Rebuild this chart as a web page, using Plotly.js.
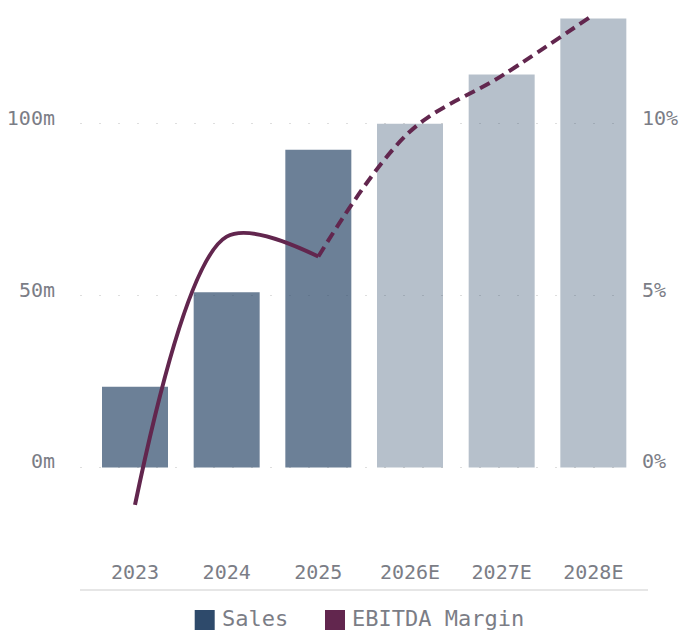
<!DOCTYPE html>
<html>
<head>
<meta charset="utf-8">
<script src="https://cdn.plot.ly/plotly-3.0.1.min.js"></script>
<style>html,body{margin:0;padding:0;background:#fff;}#chart{width:679px;height:631px;}</style>
</head>
<body>
<div id="chart"></div>
<script>
var categories = ["2023", "2024", "2025", "2026E", "2027E", "2028E"];
var sales = [23.5, 51, 92.5, 100.1, 114.4, 130.7];
var salesOpacity = [0.7, 0.7, 0.7, 0.35, 0.35, 0.35];
var actualYears = ["2023", "2024", "2025"];
var actualMargin = [-1.09, 6.72, 6.14];
var estimateYears = ["2025", "2026E", "2027E", "2028E"];
var estimateMargin = [6.14, 9.78, 11.4, 13.18];
var leftTicks = [0, 50, 100];
var rightTicks = [0, 5, 10];

var salesColor = "#2e4a6b";
var marginColor = "#62264e";
var textColor = "#7b7d86";
var fontFamily = "'DejaVu Sans Mono', 'Liberation Mono', monospace";

var traces = [
  {
    type: "bar", x: categories, y: sales, name: "Sales", showlegend: false,
    marker: {color: salesColor, opacity: salesOpacity, line: {width: 0}},
    hoverinfo: "x+y"
  },
  {
    type: "scatter", mode: "lines", x: actualYears, y: actualMargin, yaxis: "y2",
    name: "EBITDA Margin", showlegend: false,
    line: {color: marginColor, width: 4, shape: "spline", smoothing: 0.9}
  },
  {
    type: "scatter", mode: "lines", x: estimateYears, y: estimateMargin, yaxis: "y2",
    name: "EBITDA Margin (E)", showlegend: false,
    line: {color: marginColor, width: 4, shape: "spline", smoothing: 1, dash: "11px,6px"}
  }
];

function px2x(p) { return (p - 80) / 550; }
function px2y(p) { return (590 - p) / 590; }

var layout = {
  width: 679, height: 631,
  margin: {l: 80, r: 49, t: 0, b: 41},
  paper_bgcolor: "#ffffff", plot_bgcolor: "#ffffff",
  font: {family: fontFamily, color: textColor, size: 20},
  bargap: 0.28,
  showlegend: false,
  xaxis: {
    type: "category", range: [-0.6, 5.4], fixedrange: true,
    showgrid: false, zeroline: false, showline: false, ticks: "",
    ticklabelposition: "inside", ticklabelstandoff: 4,
    tickfont: {family: fontFamily, color: textColor, size: 20}
  },
  yaxis: {
    range: [-35.7, 136.1], tickvals: leftTicks, ticktext: leftTicks.map(function(v){return v + "m";}),
    showgrid: true, gridcolor: "#dedede", gridwidth: 1, griddash: "2px,17px",
    zeroline: false, showline: false, ticks: "",
    ticklabelstandoff: 24, ticklabelshift: -6,
    tickfont: {family: fontFamily, color: textColor, size: 20}
  },
  yaxis2: {
    overlaying: "y", side: "right",
    range: [-3.57, 13.61], tickvals: rightTicks, ticktext: rightTicks.map(function(v){return v + "%";}),
    showgrid: false, zeroline: false, showline: false, ticks: "",
    ticklabelstandoff: 11, ticklabelshift: -6,
    tickfont: {family: fontFamily, color: textColor, size: 20}
  },
  shapes: [
    {type: "line", xref: "paper", yref: "paper", x0: 0, x1: px2x(648), y0: 0, y1: 0,
     line: {color: "#e6e6e6", width: 2}},
    {type: "rect", xref: "paper", yref: "paper", x0: px2x(194.7), x1: px2x(214.7), y0: px2y(610), y1: px2y(630),
     fillcolor: salesColor, line: {width: 0}},
    {type: "rect", xref: "paper", yref: "paper", x0: px2x(325), x1: px2x(345), y0: px2y(610), y1: px2y(630),
     fillcolor: marginColor, line: {width: 0}}
  ],
  annotations: [
    {xref: "paper", yref: "paper", x: px2x(221), y: px2y(618), xanchor: "left", yanchor: "middle",
     text: "Sales", showarrow: false, borderpad: 0, font: {family: fontFamily, color: textColor, size: 22}},
    {xref: "paper", yref: "paper", x: px2x(351), y: px2y(618), xanchor: "left", yanchor: "middle",
     text: "EBITDA Margin", showarrow: false, borderpad: 0, font: {family: fontFamily, color: textColor, size: 22}}
  ]
};

Plotly.newPlot("chart", traces, layout, {displayModeBar: false, staticPlot: true});
</script>
</body>
</html>
